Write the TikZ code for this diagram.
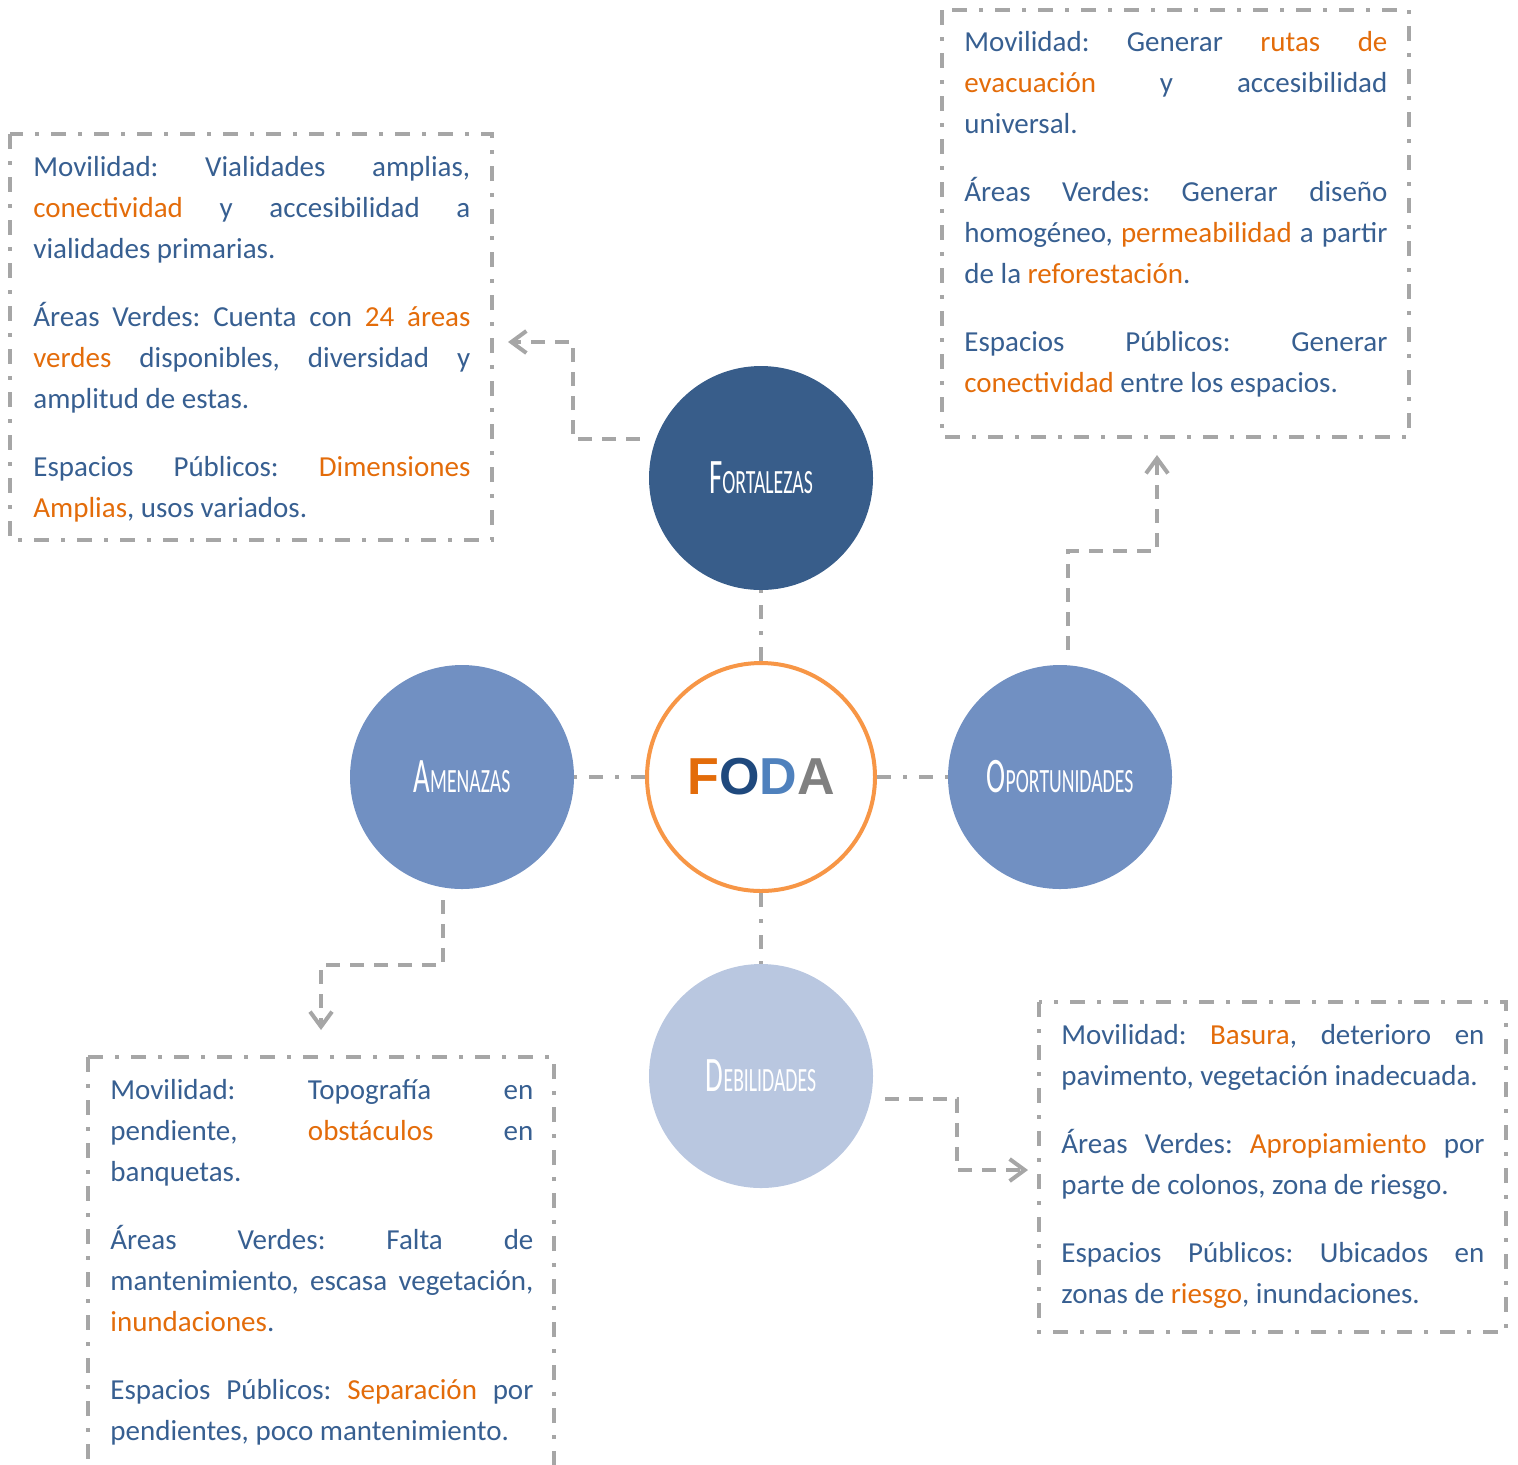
\documentclass[tikz,border=0pt]{standalone}
\usepackage{fontspec}
\setmainfont{Carlito}
\newfontfamily\circfont[FakeStretch=0.58]{Carlito}
\newfontfamily\fodafont{Liberation Sans}
\usepackage{tikz}
\usetikzlibrary{positioning}
\usetikzlibrary{arrows.meta}

\definecolor{azultexto}{HTML}{375F91}
\definecolor{naranja}{HTML}{E36C0A}
\definecolor{grislinea}{HTML}{A6A6A6}
\definecolor{azulfuerte}{HTML}{385D8A}
\definecolor{azulmedio}{HTML}{7190C2}
\definecolor{azulclaro}{HTML}{B9C7E0}
\definecolor{bordefoda}{HTML}{F79646}
\definecolor{fodaO}{HTML}{1F497D}
\definecolor{fodaD}{HTML}{4F81BD}
\definecolor{fodaA}{HTML}{808080}

\newcommand{\resalta}[1]{\textcolor{naranja}{#1}}
\newcommand{\versal}[2]{{\fontsize{24.8}{25}\selectfont #1}{\fontsize{17}{17}\selectfont #2}}

\tikzset{
  circulo/.style={circle, inner sep=0pt, minimum size=112pt, text=white,
    font=\circfont},
  caja/.style={draw=grislinea, line width=1.75pt,
    dash pattern=on 7.5pt off 6pt on 2pt off 6pt},
  texto/.style={anchor=base west, inner sep=0pt, text=azultexto, align=justify,
    font=\fontsize{14.5}{20.5}\selectfont,
    execute at begin node={\setlength{\parskip}{13.5pt}\setlength{\parindent}{0pt}%
      \frenchspacing\hyphenpenalty=10000 \tolerance=10000 \hbadness=10000 \emergencystretch=0pt}},
  enlace/.style={draw=grislinea, line width=2pt,
    dash pattern=on 7pt off 6pt on 2pt off 6pt},
  flecha/.style={draw=grislinea, line width=2pt, dash pattern=on 7pt off 5pt,
    -{Straight Barb[length=7.5pt,width=11pt]}}
}

\begin{document}
\begin{tikzpicture}[x=0.5pt,y=-0.5pt]
\useasboundingbox (0,0) rectangle (1518,1464);

% circulos
\node (foda) [circle, draw=bordefoda, line width=2pt, fill=white, minimum size=114pt,
  inner sep=0pt, font=\fodafont\bfseries\fontsize{26}{26}\selectfont] at (761,777)
  {\textcolor{naranja}{F}\textcolor{fodaO}{O}\textcolor{fodaD}{D}\textcolor{fodaA}{A}};
\node (fort) [circulo, fill=azulfuerte, on grid, above=149.5pt of foda] {\versal{F}{ORTALEZAS}};
\node (amen) [circulo, fill=azulmedio, on grid, left=149.5pt of foda] {\versal{A}{MENAZAS}};
\node (opor) [circulo, fill=azulmedio, on grid, right=149.5pt of foda] {\versal{O}{PORTUNIDADES}};
\node (debi) [circulo, fill=azulclaro, on grid, below=149.5pt of foda] {\versal{D}{EBILIDADES}};

\draw[enlace] (foda) -- (fort);
\draw[enlace] (foda) -- (amen);
\draw[enlace] (foda) -- (opor);
\draw[enlace] (foda) -- (debi);

% cajas
\draw[caja] (10,134) rectangle (492,540);
\draw[caja] (942,10) rectangle (1409,437);
\draw[caja] (88,1057) rectangle (554,1480);
\draw[caja] (1039,1002) rectangle (1506,1332);

\node (tfort) [texto, text width=218.5pt] at (33,176)
  {Movilidad: Vialidades amplias,\linebreak \resalta{conectividad} y accesibilidad a\linebreak vialidades primarias.\par
   Áreas Verdes: Cuenta con \resalta{24 áreas}\linebreak \resalta{verdes} disponibles, diversidad y\linebreak amplitud de estas.\par
   Espacios Públicos: \resalta{Dimensiones}\linebreak \resalta{Amplias}, usos variados.};
\node (topor) [texto, text width=211.5pt] at (964,51)
  {Movilidad: Generar \resalta{rutas de}\linebreak \resalta{evacuación} y accesibilidad\linebreak universal.\par
   Áreas Verdes: Generar diseño\linebreak homogéneo, \resalta{permeabilidad} a partir\linebreak de la \resalta{reforestación}.\par
   Espacios Públicos: Generar\linebreak \resalta{conectividad} entre los espacios.};
\node (tamen) [texto, text width=211.5pt] at (110,1099)
  {Movilidad: Topografía en\linebreak pendiente, \resalta{obstáculos} en\linebreak banquetas.\par
   Áreas Verdes: Falta de\linebreak mantenimiento, escasa vegetación,\linebreak \resalta{inundaciones}.\par
   Espacios Públicos: \resalta{Separación} por\linebreak pendientes, poco mantenimiento.};
\node (tdebi) [texto, text width=211.5pt] at (1061,1044)
  {Movilidad: \resalta{Basura}, deterioro en\linebreak pavimento, vegetación inadecuada.\par
   Áreas Verdes: \resalta{Apropiamiento} por\linebreak parte de colonos, zona de riesgo.\par
   Espacios Públicos: Ubicados en\linebreak zonas de \resalta{riesgo}, inundaciones.};

% flechas
\coordinate (f1) at (640,439);
\coordinate (f2) at (573,342);
\coordinate (f3) at (508,342);
\coordinate (o1) at (1068,650);
\coordinate (o2) at (1157,551);
\coordinate (o3) at (1157,455);
\coordinate (a1) at (443,900);
\coordinate (a2) at (321,965);
\coordinate (a3) at (321,1030);
\coordinate (d1) at (885,1099);
\coordinate (d2) at (957,1170);
\coordinate (d3) at (1028,1170);
\draw[flecha] (f1) -| (f2) -- (f3);
\draw[flecha] (o1) |- (o2) -- (o3);
\draw[flecha] (a1) |- (a2) -- (a3);
\draw[flecha] (d1) -| (d2) -- (d3);
\end{tikzpicture}
\end{document}
